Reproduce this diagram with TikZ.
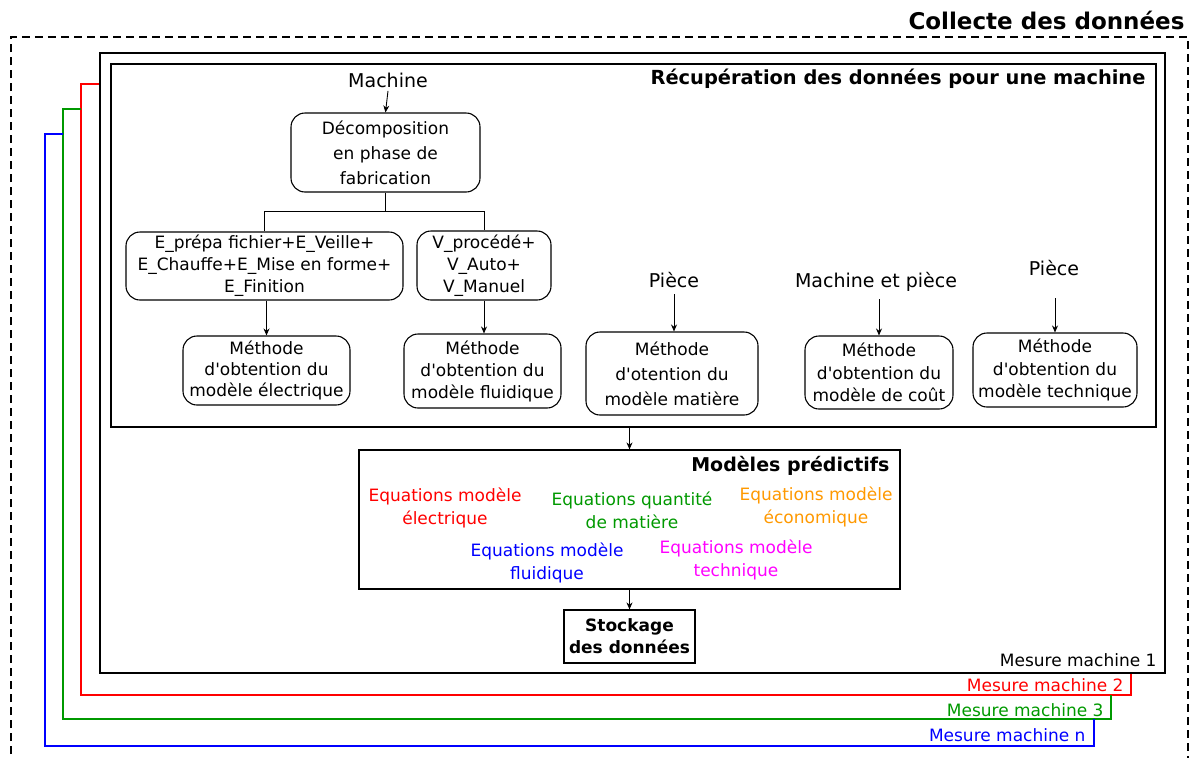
\documentclass[tikz,border=0pt]{standalone}
\usepackage{fontspec}
\setmainfont{DejaVu Sans}
\usetikzlibrary{arrows.meta}
\definecolor{cgreen}{RGB}{0,153,0}
\definecolor{corange}{RGB}{255,153,0}
\definecolor{cmag}{RGB}{255,0,255}
\newcommand{\ap}{\textquotesingle}
\begin{document}
\begin{tikzpicture}[x=1pt,y=-1pt,
  box/.style={draw, line width=1.1pt, rounded corners=14pt, align=center, inner sep=0pt},
  sqbox/.style={draw, line width=1.2pt, inner sep=0pt},
  frame/.style={draw, line width=1.5pt, inner sep=0pt},
  arr/.style={-{Stealth[length=7pt,width=6pt]}, line width=0.9pt},
  conn/.style={line width=0.9pt},
  lbl/.style={font=\fontsize{19}{23}\selectfont},
  eq/.style={align=center},
  outl/.style={line width=1.1pt}
]
\useasboundingbox (0,0) rectangle (1192,758);
\clip (0,0) rectangle (1192,758);

% outer dashed frame
\draw[line width=2.5pt, dash pattern=on 8pt off 5pt] (11,780) -- (11,37) -- (1188,37) -- (1188,780);
\node[anchor=east, font=\fontsize{23}{27}\selectfont\bfseries] (collecte) at (1188,20) {Collecte des données};

% machine frames
\draw[outl, red] (100,84) -- (81,84) -- (81,695) -- (1131,695) -- (1131,673);
\draw[outl, cgreen] (81,109) -- (63,109) -- (63,719) -- (1111,719) -- (1111,695);
\draw[outl, blue] (63,134) -- (45,134) -- (45,746) -- (1094,746) -- (1094,719);
\node[anchor=east, red, font=\fontsize{17}{20}\selectfont] (m2lbl) at (1127,685) {Mesure machine 2};
\node[anchor=east, cgreen, font=\fontsize{17}{20}\selectfont] (m3lbl) at (1107,710) {Mesure machine 3};
\node[anchor=east, blue, font=\fontsize{17}{20}\selectfont] (mnlbl) at (1089,735) {Mesure machine n};

\node[frame, fill=white, minimum width=1065, minimum height=620] (m1) at (632.5,363) {};
\node[anchor=east, font=\fontsize{17}{20}\selectfont] (m1lbl) at (1160,660) {Mesure machine 1};

% recuperation box
\node[frame, minimum width=1045, minimum height=363] (rec) at (633.5,245.5) {};
\node[anchor=east, font=\fontsize{19.4}{23}\selectfont\bfseries] (rectitle) at (1149,79) {Récupération des données pour une machine};

% nodes
\node[lbl] (machine) at (388,80) {Machine};
\node[box, minimum width=189, minimum height=79, font=\fontsize{17}{25}\selectfont] (dec) at (385.5,152.5) {Décomposition\\en phase de\\fabrication};
\node[box, minimum width=277, minimum height=68, font=\fontsize{17}{22}\selectfont] (eb) at (264.5,266) {E\_prépa fichier+E\_Veille+\\E\_Chauffe+E\_Mise en forme+\\E\_Finition};
\node[box, minimum width=134, minimum height=69, font=\fontsize{17}{22}\selectfont] (vb) at (484,265.5) {V\_procédé+\\V\_Auto+\\V\_Manuel};
\node[box, minimum width=167, minimum height=69, font=\fontsize{17}{21}\selectfont] (elec) at (266.5,370.5) {Méthode\\d\ap obtention du\\modèle électrique};
\node[box, minimum width=157, minimum height=74, font=\fontsize{17}{22}\selectfont] (fluid) at (482.5,371) {Méthode\\d\ap obtention du\\modèle fluidique};
\node[lbl] (piece1) at (674,280) {Pièce};
\node[box, minimum width=172, minimum height=83, font=\fontsize{17}{25}\selectfont] (mat) at (672,373.5) {Méthode\\d\ap otention du\\modèle matière};
\node[lbl] (mep) at (876,282) {Machine et pièce};
\node[box, minimum width=148, minimum height=73, font=\fontsize{17}{22.5}\selectfont] (cout) at (879,372.5) {Méthode\\d\ap obtention du\\modèle de coût};
\node[lbl] (piece2) at (1054,268) {Pièce};
\node[box, minimum width=164, minimum height=74, font=\fontsize{17}{22.5}\selectfont] (tech) at (1055,370) {Méthode\\d\ap obtention du\\modèle technique};

% connectors inside rec
\draw[arr] (machine.south) -- (dec.north);
\draw[conn] (dec.south) -- ++(0,19) coordinate (split) -| (eb.north);
\draw[conn] (split) -| (vb.north);
\draw[arr] (eb.south -| elec.north) -- (elec.north);
\draw[arr] (vb.south) -- (vb.south |- fluid.north);
\draw[arr] (piece1.south) ++(0,3) -- (piece1.south |- mat.north);
\draw[arr] (mep.south -| cout.north) ++(0,4) -- (cout.north);
\draw[arr] (piece2.south -| tech.north) ++(0,19) -- (tech.north);

% predictive models
\node[sqbox, minimum width=541, minimum height=139] (pred) at (629.5,519.5) {};
\node[anchor=east, font=\fontsize{19}{23}\selectfont\bfseries] (predtitle) at (893,466) {Modèles prédictifs};
\node[eq, red, font=\fontsize{17}{23}\selectfont] (eq1) at (445,508) {Equations modèle\\électrique};
\node[eq, cgreen, font=\fontsize{17}{23}\selectfont] (eq2) at (632,510) {Equations quantité\\de matière};
\node[eq, corange, font=\fontsize{17}{23}\selectfont] (eq3) at (816,507) {Equations modèle\\économique};
\node[eq, blue, font=\fontsize{17}{23}\selectfont] (eq4) at (547,563) {Equations modèle\\fluidique};
\node[eq, cmag, font=\fontsize{17}{23}\selectfont] (eq5) at (736,560) {Equations modèle\\technique};

\node[sqbox, minimum width=131, minimum height=53, align=center, font=\fontsize{17}{22}\selectfont\bfseries] (stock) at (629.5,636.5) {Stockage\\des données};

\draw[arr] (pred.north |- rec.south) -- (pred.north);
\draw[arr] (pred.south) -- (stock.north);
\end{tikzpicture}
\end{document}
